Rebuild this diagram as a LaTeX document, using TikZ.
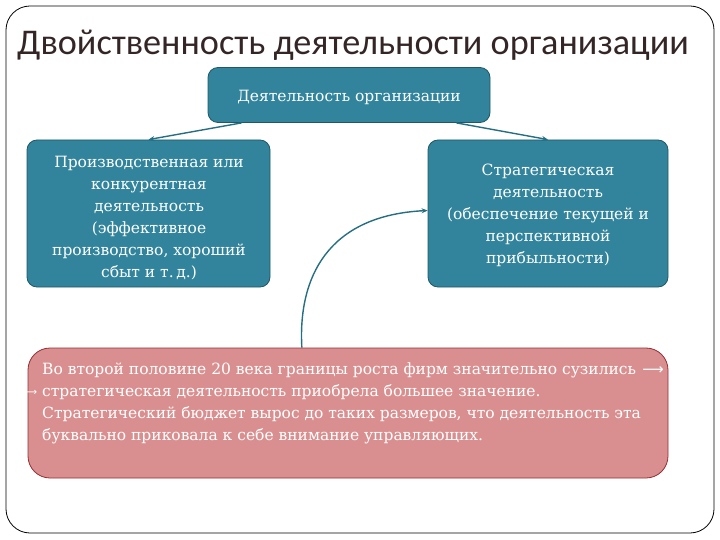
\documentclass[tikz,border=0pt]{standalone}
\usepackage{fontspec}
\setmainfont{DejaVu Serif}
\newfontfamily\titlefont{Carlito}
\newfontfamily\symfont{DejaVu Sans}
\usetikzlibrary{arrows.meta,calc}
\definecolor{teal1}{RGB}{49,132,155}
\definecolor{teal2}{RGB}{32,88,103}
\definecolor{tealc}{RGB}{38,110,130}
\definecolor{pinkf}{RGB}{217,143,143}
\definecolor{pinkd}{RGB}{150,45,50}
\definecolor{titlec}{RGB}{52,38,38}
\tikzset{
  tbox/.style={draw=teal2, fill=teal1, rounded corners=10pt, line width=0.8pt, text=white, align=center, inner sep=0pt},
  pbox/.style={draw=pinkd, fill=pinkf, rounded corners=22pt, line width=0.8pt, inner sep=0pt},
  conn/.style={draw=tealc, line width=1.4pt, -{Stealth[length=6pt,width=5pt]}},
  btxt/.style={font=\fontsize{15.5}{22}\selectfont, text=white, align=center, inner sep=0pt},
}
\begin{document}
\begin{tikzpicture}[x=1pt,y=-1pt]
\useasboundingbox (0,0) rectangle (720,540);
% outer frame
\draw[black, line width=0.8pt, rounded corners=24pt] (6,6) rectangle (714,533);
% title
\node[anchor=base west, inner sep=0pt, text=titlec, font=\titlefont\fontsize{36.2}{40}\selectfont] (title) at (17,55) {Двойственность деятельности организации};
% boxes
\node[tbox, minimum width=282pt, minimum height=55pt] (top) at (349,95) {};
\node[btxt] (toptxt) at (349,97) {Деятельность организации};
\node[tbox, minimum width=243pt, minimum height=147pt] (left) at (148.5,213.5) {};
\node[btxt] (lefttxt) at (149,218) {Производственная или\\конкурентная\\деятельность\\(эффективное\\производство, хороший\\сбыт и т.\,д.)};
\node[tbox, minimum width=240pt, minimum height=147pt] (right) at (548,213.5) {};
\node[btxt] (righttxt) at (548,215.5) {Стратегическая\\деятельность\\(обеспечение текущей и\\перспективной\\прибыльности)};
\node[pbox, minimum width=640pt, minimum height=130pt] (pink) at (348,413) {};
\node[anchor=west, inner sep=0pt, text=white, align=left, font=\fontsize{15.5}{22}\selectfont] (pinktxt) at (42,403)
 {Во второй половине 20 века границы роста фирм значительно сузились\\стратегическая деятельность приобрела большее значение.\\Стратегический бюджет вырос до таких размеров, что деятельность эта\\буквально приковала к себе внимание управляющих.};
\node[text=white, inner sep=0pt, font=\symfont\fontsize{15}{15}\selectfont] (ar1) at (653,371) {⟶};
\node[text=white, inner sep=0pt, font=\symfont\fontsize{10}{12}\selectfont] (ar2) at (30,393) {⟶};
% connectors
\draw[conn] ($(top.south west)!0.12!(top.south east)$) -- ($(left.north west)!0.5!(left.north east)$);
\draw[conn] ($(top.south west)!0.88!(top.south east)$) -- ($(right.north west)!0.5!(right.north east)$);
\coordinate (cs) at ($(pink.north west)!0.428!(pink.north east)$);
\draw[conn] (cs) .. controls ($(cs)+(-4,-70)$) and ($(right.west)+(-100,2)$) .. ($(right.west)+(0,-3)$);
\end{tikzpicture}
\end{document}
